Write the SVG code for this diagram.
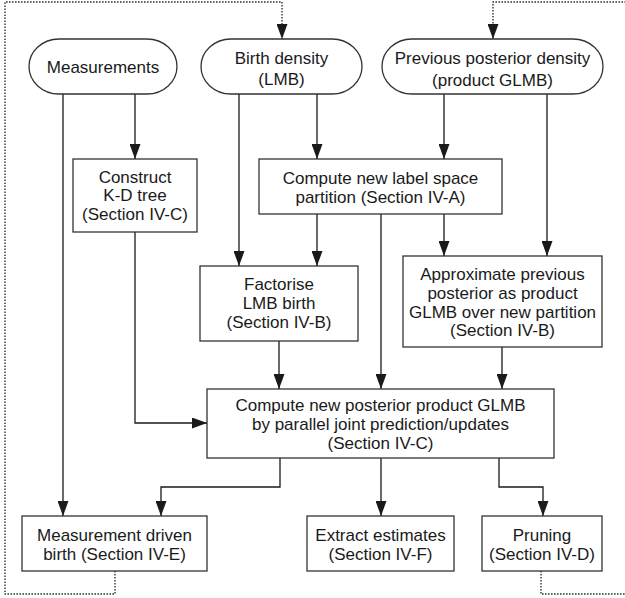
<svg xmlns="http://www.w3.org/2000/svg" width="625" height="598" viewBox="0 0 625 598">
<defs>
<marker id="ah" markerUnits="userSpaceOnUse" markerWidth="15" markerHeight="11" refX="15" refY="5.5" orient="auto">
<path d="M0,0 L15,5.5 L0,11 z" fill="#1a1a1a"/>
</marker>
</defs>
<style>
.box{fill:#fff;stroke:#333;stroke-width:1.3}
.t{font-family:"Liberation Sans",Arial,sans-serif;font-size:17px;fill:#1a1a1a;text-anchor:middle}
.c{fill:none;stroke:#1a1a1a;stroke-width:1.3}
.d{fill:none;stroke:#333;stroke-width:1.4;stroke-dasharray:1.6 1.4}
</style>
<rect width="625" height="598" fill="#fff"/>
<g id="connectors">
<path class="d" d="M115,571 V594 H5 V2 H282 V39" marker-end="url(#ah)"/>
<path class="d" d="M541,571 V594 H630 V2 H493 V39" marker-end="url(#ah)"/>
<path class="c" d="M135,94 V159" marker-end="url(#ah)"/>
<path class="c" d="M63,94 V516" marker-end="url(#ah)"/>
<path class="c" d="M239,94 V266" marker-end="url(#ah)"/>
<path class="c" d="M317,94 V159" marker-end="url(#ah)"/>
<path class="c" d="M444,94 V159" marker-end="url(#ah)"/>
<path class="c" d="M547,94 V256" marker-end="url(#ah)"/>
<path class="c" d="M317,214 V266" marker-end="url(#ah)"/>
<path class="c" d="M381,214 V389" marker-end="url(#ah)"/>
<path class="c" d="M444,214 V256" marker-end="url(#ah)"/>
<path class="c" d="M279,341 V389" marker-end="url(#ah)"/>
<path class="c" d="M502,347 V389" marker-end="url(#ah)"/>
<path class="c" d="M135,232 V423 H207" marker-end="url(#ah)"/>
<path class="c" d="M280,458 V487 H161 V516" marker-end="url(#ah)"/>
<path class="c" d="M381,458 V516" marker-end="url(#ah)"/>
<path class="c" d="M499,458 V487 H543 V516" marker-end="url(#ah)"/>
</g>
<g id="measurements">
<rect class="box" x="29" y="39" width="148" height="55" rx="30" ry="27.5"/>
<text class="t" x="103" y="73">Measurements</text>
</g>
<g id="birth-density">
<rect class="box" x="201" y="39" width="161" height="55" rx="30" ry="27.5"/>
<text class="t" x="281.5" y="64">Birth density</text>
<text class="t" x="281.5" y="85">(LMB)</text>
</g>
<g id="previous-posterior">
<rect class="box" x="382" y="39" width="221" height="55" rx="30" ry="27.5"/>
<text class="t" x="492.5" y="64">Previous posterior density</text>
<text class="t" x="492.5" y="86">(product GLMB)</text>
</g>
<g id="construct-kd">
<rect class="box" x="73" y="159" width="124" height="73"/>
<text class="t" x="135" y="183">Construct</text>
<text class="t" x="135" y="201">K-D tree</text>
<text class="t" x="135" y="220">(Section IV-C)</text>
</g>
<g id="compute-partition">
<rect class="box" x="259" y="159" width="243" height="55"/>
<text class="t" x="380.5" y="184">Compute new label space</text>
<text class="t" x="380.5" y="203">partition (Section IV-A)</text>
</g>
<g id="factorise">
<rect class="box" x="200" y="266" width="158" height="75"/>
<text class="t" x="279" y="290">Factorise</text>
<text class="t" x="279" y="309">LMB birth</text>
<text class="t" x="279" y="328">(Section IV-B)</text>
</g>
<g id="approximate">
<rect class="box" x="403" y="256" width="199" height="91"/>
<text class="t" x="502.5" y="280">Approximate previous</text>
<text class="t" x="502.5" y="299">posterior as product</text>
<text class="t" x="502.5" y="318">GLMB over new partition</text>
<text class="t" x="502.5" y="336">(Section IV-B)</text>
</g>
<g id="compute-posterior">
<rect class="box" x="207" y="389" width="347" height="69"/>
<text class="t" x="380.5" y="411">Compute new posterior product GLMB</text>
<text class="t" x="380.5" y="430">by parallel joint prediction/updates</text>
<text class="t" x="380.5" y="449">(Section IV-C)</text>
</g>
<g id="measurement-birth">
<rect class="box" x="22" y="516" width="185" height="55"/>
<text class="t" x="114.5" y="541">Measurement driven</text>
<text class="t" x="114.5" y="560">birth (Section IV-E)</text>
</g>
<g id="extract">
<rect class="box" x="307" y="516" width="147" height="55"/>
<text class="t" x="380.5" y="541">Extract estimates</text>
<text class="t" x="380.5" y="560">(Section IV-F)</text>
</g>
<g id="pruning">
<rect class="box" x="482" y="516" width="120" height="55"/>
<text class="t" x="542" y="541">Pruning</text>
<text class="t" x="542" y="560">(Section IV-D)</text>
</g>
</svg>
